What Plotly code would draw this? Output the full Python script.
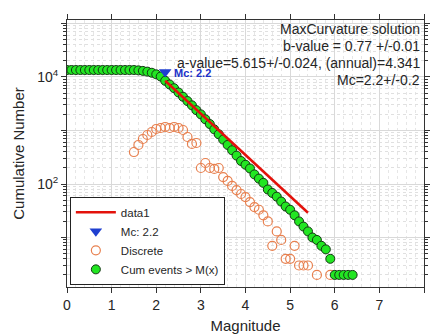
import plotly.graph_objects as go

# ---------------- data ----------------
cum_mag = [0.0, 0.1, 0.2, 0.3, 0.4, 0.5, 0.6, 0.7, 0.8, 0.9,
           1.0, 1.1, 1.2, 1.3, 1.4, 1.5, 1.6, 1.7, 1.8, 1.9,
           2.0, 2.1, 2.2, 2.3, 2.4, 2.5, 2.6, 2.7, 2.8, 2.9,
           3.0, 3.1, 3.2, 3.3, 3.4, 3.5, 3.6, 3.7, 3.8, 3.9,
           4.0, 4.1, 4.2, 4.3, 4.4, 4.5, 4.6, 4.7, 4.8, 4.9,
           5.0, 5.1, 5.2, 5.3, 5.4, 5.5, 5.6, 5.7, 5.8, 5.9,
           6.0, 6.1, 6.2, 6.3, 6.4]
cum_count = [13500, 13500, 13500, 13500, 13500, 13500, 13500, 13500, 13500, 13500,
             13500, 13500, 13500, 13500, 13500, 13500, 13300, 13000, 12600, 12000,
             11200, 10200, 8500, 7240, 6170, 5130, 4270, 3550, 2950, 2400,
             2000, 1620, 1320, 1050, 850, 676, 537, 427, 339, 269,
             229, 195, 151, 126, 105, 79, 68, 58, 47, 38,
             33, 26, 20, 16, 13, 10, 9, 7, 6, 4,
             2, 2, 2, 2, 2]

disc_mag = [1.5, 1.6, 1.7, 1.8, 1.9, 2.0, 2.1, 2.2, 2.3, 2.4, 2.5, 2.6, 2.7, 2.8, 2.9,
            3.0, 3.1, 3.2, 3.3, 3.4, 3.5, 3.6, 3.7, 3.8, 3.9,
            4.0, 4.1, 4.2, 4.3, 4.4, 4.5, 4.6, 4.7, 4.8, 4.9,
            5.0, 5.1, 5.2, 5.3, 5.4, 5.6, 5.9]
disc_count = [396, 536, 693, 824, 937, 1067, 1114, 1163, 1114, 1163, 1114, 1021, 756, 560, 584,
              199, 247, 199, 191, 199, 135, 114, 92, 77, 65,
              57, 46, 37, 33, 26, 20, 7, 13, 9, 4,
              4, 7, 3, 3, 3, 2, 2]

fit_mag = [2.2, 5.4]
fit_count = [8500, 29]

mc_mag = [2.2]
mc_count = [12400]

annot_lines = ["MaxCurvature solution",
               "b-value = 0.77 +/-0.01",
               "a-value=5.615+/-0.024, (annual)=4.341",
               "Mc=2.2+/-0.2"]

x_ticks = [0, 1, 2, 3, 4, 5, 6, 7, 8]
x_ticktext = ["0", "1", "2", "3", "4", "5", "6", "7", ""]
y_ticks = [1, 10, 100, 1000, 10000, 100000]
y_ticktext = ["", "", "10<sup>2</sup>", "", "10<sup>4</sup>", ""]
y_minor = [m * 10 ** e for e in range(0, 5) for m in range(2, 10)]
x_minor = [i / 5 for i in range(0, 41)]

FONT = "Liberation Sans, Arial, sans-serif"
TXT = "#262626"

fig = go.Figure()

fig.add_trace(go.Scatter(
    x=disc_mag, y=disc_count, mode="markers", name="Discrete",
    marker=dict(symbol="circle-open", size=9, color="#E8804F", line=dict(width=1.2)),
    legendrank=3))

fig.add_trace(go.Scatter(
    x=cum_mag, y=cum_count, mode="markers", name="Cum events > M(x)",
    marker=dict(symbol="circle", size=9, color="#22E622",
                line=dict(color="#143814", width=1)),
    legendrank=4))

fig.add_trace(go.Scatter(
    x=fit_mag, y=fit_count, mode="lines", name="data1",
    line=dict(color="#E3120B", width=2.5),
    legendrank=1))

fig.add_trace(go.Scatter(
    x=mc_mag, y=mc_count, mode="markers", name="Mc: 2.2",
    marker=dict(symbol="triangle-down", size=11, color="#1F3FD0"),
    legendrank=2))

# annotations (top right text)
ys = [0.968, 0.903, 0.840, 0.776]
for t, yy in zip(annot_lines, ys):
    fig.add_annotation(x=0.993, y=yy, xref="paper", yref="paper", text=t,
                       showarrow=False, xanchor="right", yanchor="middle",
                       font=dict(family=FONT, size=14, color=TXT))

fig.add_annotation(x=2.36, y=4.08, xref="x", yref="y", text="<b>Mc: 2.2</b>",
                   showarrow=False, xanchor="left", yanchor="middle",
                   font=dict(family=FONT, size=11, color="#2030C8"))

fig.update_layout(
    width=433, height=334,
    margin=dict(l=67, r=3, t=20, b=47),
    paper_bgcolor="white", plot_bgcolor="white",
    font=dict(family=FONT, size=14, color=TXT),
    showlegend=True,
    legend=dict(x=0.008, y=0.008, xanchor="left", yanchor="bottom",
                bgcolor="white", bordercolor="#222222", borderwidth=1,
                font=dict(family=FONT, size=11.5, color=TXT),
                tracegroupgap=0, itemwidth=40),
)

fig.update_xaxes(
    range=[0, 8], tickmode="array", tickvals=x_ticks, ticktext=x_ticktext,
    ticks="outside", ticklen=5, tickcolor="#333333", tickwidth=1,
    showline=True, linecolor="#333333", linewidth=1, mirror="ticks",
    showgrid=True, gridcolor="#D9D9D9", gridwidth=1,
    zeroline=False,
    tickfont=dict(family=FONT, size=14, color=TXT),
    title=dict(text="Magnitude", font=dict(family=FONT, size=15, color=TXT), standoff=8),
    minor=dict(tickmode="array", tickvals=x_minor, showgrid=True,
               gridcolor="#E6E6E6", griddash="dot", gridwidth=1, ticks=""),
)

fig.update_yaxes(
    type="log", range=[0.075, 5.065], tickmode="array", tickvals=y_ticks, ticktext=y_ticktext,
    ticks="outside", ticklen=5, tickcolor="#333333", tickwidth=1,
    showline=True, linecolor="#333333", linewidth=1, mirror="ticks",
    showgrid=True, gridcolor="#D9D9D9", gridwidth=1,
    zeroline=False,
    tickfont=dict(family=FONT, size=14, color=TXT),
    title=dict(text="Cumulative Number", font=dict(family=FONT, size=15, color=TXT), standoff=8),
    minor=dict(tickmode="array", tickvals=y_minor, showgrid=True,
               gridcolor="#E0E0E0", griddash="dot", gridwidth=1,
               ticks="outside", ticklen=3, tickcolor="#333333"),
)

fig.write_html("out.html")
